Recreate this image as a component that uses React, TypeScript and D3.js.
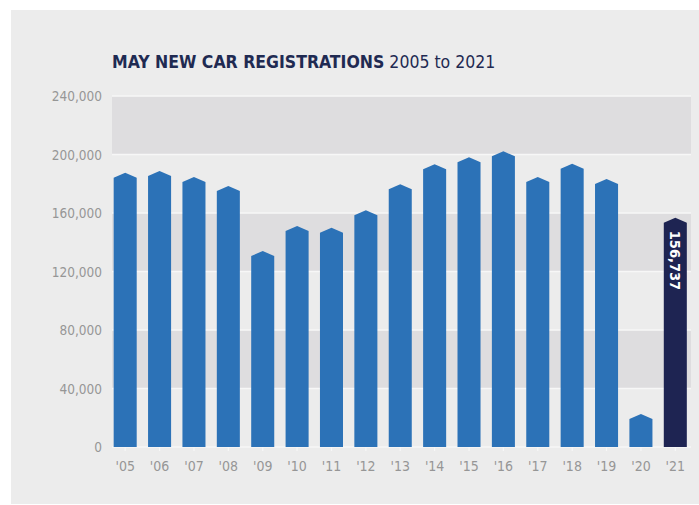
// May new car registrations, 2005 to 2021: bar chart with peaked bar tops.
import * as d3 from "d3";

const W = 699;
const H = 505;

const YEARS = ["'05", "'06", "'07", "'08", "'09", "'10", "'11", "'12", "'13", "'14", "'15", "'16", "'17", "'18", "'19", "'20", "'21"];
const REGISTRATIONS = [187600, 188700, 184600, 178500, 134000, 151100, 149900, 161800, 179600, 193300, 198100, 202200, 184600, 193700, 183200, 22600, 156737];
const Y_TICKS = [0, 40000, 80000, 120000, 160000, 200000, 240000];
const HIGHLIGHT = "'21";

const PLOT = { left: 108, right: 692.5, top: 96, bottom: 447 };

export default function App() {
  const x = d3.scaleBand<string>()
    .domain(YEARS)
    .range([PLOT.left, PLOT.right])
    .paddingInner(0.33)
    .paddingOuter(0.165);
  const y = d3.scaleLinear().domain([0, 240000]).range([PLOT.bottom, PLOT.top]);
  const fmt = d3.format(",");
  const bandLeft = 112;
  const bandRight = 691;
  const roof = 5;

  const barPath = (year: string, v: number) => {
    const x0 = x(year)!;
    const x1 = x0 + x.bandwidth();
    const xc = (x0 + x1) / 2;
    const top = y(v);
    const p = d3.path();
    p.moveTo(x0, y(0));
    p.lineTo(x0, top + roof);
    p.lineTo(xc, top);
    p.lineTo(x1, top + roof);
    p.lineTo(x1, y(0));
    p.closePath();
    return p.toString();
  };

  const font = "'DejaVu Sans Condensed', 'Liberation Sans Narrow', sans-serif";

  return (
    <svg width={W} height={H} style={{ position: "absolute", left: 0, top: 0, background: "#fff" }}>
      <rect x={11} y={10} width={W - 11} height={494} fill="#ececec" />

      <text x={112} y={68} fontFamily={font} fontSize={17.5} fill="#1f2a52">
        <tspan fontWeight="bold">MAY NEW CAR REGISTRATIONS</tspan>
        <tspan> 2005 to 2021</tspan>
      </text>

      {/* alternating bands */}
      {Y_TICKS.slice(0, -1).map((t, i) =>
        i % 2 === 1 ? (
          <rect key={t} x={bandLeft} y={y(Y_TICKS[i + 1])} width={bandRight - bandLeft}
            height={y(t) - y(Y_TICKS[i + 1])} fill="#dedddf" />
        ) : null
      )}
      {Y_TICKS.map((t) => (
        <line key={t} x1={bandLeft} x2={bandRight} y1={y(t)} y2={y(t)} stroke="#f7f7f7" strokeWidth={1.5} />
      ))}
      {Y_TICKS.map((t) => (
        <text key={t} x={102} y={y(t) + 5} textAnchor="end" fontFamily={font} fontSize={13.5} fill="#969696">
          {fmt(t)}
        </text>
      ))}

      {YEARS.map((yr, i) => (
        <path key={yr} d={barPath(yr, REGISTRATIONS[i])} fill={yr === HIGHLIGHT ? "#1e2452" : "#2c72b7"} />
      ))}

      {YEARS.map((yr) => {
        const cx = x(yr)! + x.bandwidth() / 2;
        return (
          <g key={yr}>
            <line x1={cx} x2={cx} y1={y(0)} y2={y(0) + 4} stroke="#f7f7f7" strokeWidth={1.2} />
            <text x={cx} y={471} textAnchor="middle" fontFamily={font} fontSize={14} fill="#969696">
              {yr}
            </text>
          </g>
        );
      })}

      {(() => {
        const i = YEARS.indexOf(HIGHLIGHT);
        const cx = x(HIGHLIGHT)! + x.bandwidth() / 2;
        const ty = y(REGISTRATIONS[i]) + 13;
        return (
          <text transform={`translate(${cx - 5},${ty}) rotate(90)`} fontFamily={font} fontSize={14.5}
            fontWeight="bold" fill="#fff">
            {fmt(REGISTRATIONS[i])}
          </text>
        );
      })()}
    </svg>
  );
}
